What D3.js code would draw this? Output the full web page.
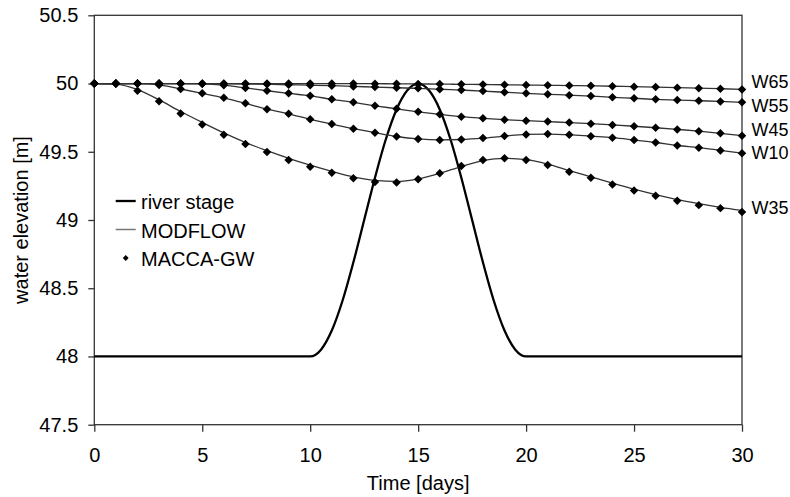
<!DOCTYPE html>
<html>
<head>
<meta charset="utf-8">
<script src="https://cdn.jsdelivr.net/npm/d3@7"></script>
<style>
    body { margin: 0; background: #fff; }
    text { font-family: "Liberation Sans", Arial, sans-serif; font-size: 20px; fill: #000; }
</style>
</head>
<body>
<div id="chart"></div>
<script>

// Time axis for the observation wells (days).
const days = d3.range(0, 31);

// River stage hydrograph.
const riverTime = [0, 10, 10.5, 11, 11.5, 12, 12.5, 13, 13.5, 14, 14.5, 15,
    15.5, 16, 16.5, 17, 17.5, 18, 18.5, 19, 19.5, 20, 30];
const riverStage = [48, 48, 48.05, 48.19, 48.41, 48.69, 49.0, 49.31, 49.59, 49.81, 49.95, 50,
    49.95, 49.81, 49.59, 49.31, 49.0, 48.69, 48.41, 48.19, 48.05, 48, 48];

// MACCA-GW heads at each well, one value per day.
const w65 = [50, 50, 50, 50, 50, 50, 50, 50, 50, 50, 50, 50, 50, 49.999, 49.998, 49.997,
    49.996, 49.994, 49.993, 49.991, 49.989, 49.987, 49.985, 49.983, 49.980, 49.977,
    49.974, 49.970, 49.966, 49.962, 49.957];
const w55 = [50, 50, 50, 50, 50, 49.999, 49.998, 49.996, 49.994, 49.991, 49.988, 49.984,
    49.979, 49.974, 49.969, 49.965, 49.958, 49.952, 49.945, 49.936, 49.928, 49.921,
    49.915, 49.908, 49.899, 49.892, 49.884, 49.879, 49.874, 49.869, 49.862];
const w45 = [50, 50, 50, 50, 50, 49.998, 49.988, 49.968, 49.947, 49.928, 49.910, 49.884,
    49.862, 49.837, 49.815, 49.793, 49.774, 49.757, 49.745, 49.735, 49.728, 49.721,
    49.714, 49.706, 49.697, 49.687, 49.676, 49.664, 49.651, 49.635, 49.618];
const w10 = [50, 50, 50, 49.99, 49.96, 49.928, 49.895, 49.855, 49.812, 49.778, 49.738,
    49.703, 49.669, 49.640, 49.612, 49.594, 49.587, 49.590, 49.600, 49.615, 49.627,
    49.630, 49.625, 49.614, 49.603, 49.586, 49.568, 49.546, 49.530, 49.510, 49.490];
const w35 = [50, 50, 49.947, 49.870, 49.780, 49.700, 49.625, 49.557, 49.498, 49.440,
    49.390, 49.347, 49.306, 49.279, 49.274, 49.298, 49.342, 49.396, 49.440, 49.452,
    49.440, 49.403, 49.354, 49.310, 49.261, 49.217, 49.178, 49.141, 49.109, 49.087, 49.058];

// MODFLOW heads. Only W35 shows a visible offset from the MACCA-GW points.
const w35Modflow = [50, 49.995, 49.955, 49.880, 49.795, 49.715, 49.638, 49.568, 49.508,
    49.452, 49.402, 49.357, 49.316, 49.290, 49.283, 49.302, 49.342, 49.392, 49.435,
    49.452, 49.443, 49.410, 49.362, 49.316, 49.270, 49.226, 49.186, 49.150, 49.120,
    49.093, 49.070];

const wellNames = ["W65", "W55", "W45", "W10", "W35"];
const maccaSeries = [w65, w55, w45, w10, w35];
const modflowSeries = [w65, w55, w45, w10, w35Modflow];

// Where the well names sit on the right hand side (water elevation).
const wellLabelAt = [49.965, 49.794, 49.618, 49.445, 49.042];

const yTicks = [47.5, 48, 48.5, 49, 49.5, 50, 50.5];
const xTicks = [0, 5, 10, 15, 20, 25, 30];

const legendItems = ["river stage", "MODFLOW", "MACCA-GW"];

const margin = { top: 15.3, left: 94.3, bottom: 72.3, right: 48 };
const totalWidth = 790;
const totalHeight = 497;
const width = totalWidth - margin.left - margin.right;
const height = totalHeight - margin.top - margin.bottom;

// Scales and axes.
const x = d3.scaleLinear()
    .domain([0, 30])
    .range([0, width]);

const y = d3.scaleLinear()
    .domain([47.5, 50.5])
    .range([height, 0]);

const xAxis = d3.axisBottom(x)
    .tickValues(xTicks)
    .tickSize(7)
    .tickSizeOuter(0)
    .tickPadding(16.5)
    .tickFormat(d => d);

const yAxis = d3.axisLeft(y)
    .tickValues(yTicks)
    .tickSize(6)
    .tickSizeOuter(0)
    .tickPadding(10)
    .tickFormat(d => d);

const svg = d3.select("#chart").append("svg")
    .attr("width", totalWidth)
    .attr("height", totalHeight)
    .append("g")
    .attr("transform", "translate(" + margin.left + "," + margin.top + ")");

// Plot area border.
svg.append("rect")
    .attr("width", width)
    .attr("height", height)
    .style("fill", "none")
    .style("stroke", "#333")
    .style("stroke-width", 1.3);

const styleAxis = g => {
    g.select(".domain").remove();
    g.selectAll("line").style("stroke", "#333").style("stroke-width", 1.3);
    g.selectAll("text")
        .style("font-family", "\"Liberation Sans\", Arial, sans-serif")
        .style("font-size", "20px")
        .style("fill", "#000");
};

svg.append("g")
    .attr("transform", "translate(0," + height + ")")
    .call(xAxis)
    .call(styleAxis);

svg.append("g")
    .call(yAxis)
    .call(styleAxis);

// Axis titles.
svg.append("text")
    .attr("x", width / 2)
    .attr("y", 490 - margin.top)
    .style("text-anchor", "middle")
    .text("Time [days]");

svg.append("text")
    .attr("transform", "rotate(-90)")
    .attr("x", -height / 2)
    .attr("y", 28 - margin.left)
    .style("text-anchor", "middle")
    .text("water elevation [m]");

// River stage, thick black line.
const riverLine = d3.line()
    .curve(d3.curveMonotoneX)
    .x((d, i) => x(riverTime[i]))
    .y(d => y(d));

svg.append("path")
    .attr("d", riverLine(riverStage))
    .style("fill", "none")
    .style("stroke", "#000")
    .style("stroke-width", 2.3);

// MODFLOW, thin lines.
const wellLine = d3.line()
    .curve(d3.curveMonotoneX)
    .x((d, i) => x(days[i]))
    .y(d => y(d));

modflowSeries.forEach(series => {
    svg.append("path")
        .attr("d", wellLine(series))
        .style("fill", "none")
        .style("stroke", "#333")
        .style("stroke-width", 1.3);
});

// MACCA-GW, diamonds at every day.
const diamond = d3.symbol().type(d3.symbolDiamond2).size(46);

maccaSeries.forEach(series => {
    svg.append("g")
        .selectAll("path")
        .data(series)
        .join("path")
        .attr("d", diamond)
        .attr("transform", (d, i) => "translate(" + x(days[i]) + "," + y(d) + ")")
        .style("fill", "#000");
});

// Well names to the right of the plot.
svg.append("g")
    .selectAll("text")
    .data(wellNames)
    .join("text")
    .attr("x", width + 9.5)
    .attr("y", (d, i) => y(wellLabelAt[i]))
    .style("font-size", "18px")
    .text(d => d);

// Legend.
const legend = svg.append("g")
    .attr("transform", "translate(21.4," + (201 - margin.top) + ")");

const rowGap = 28.5;

legend.append("line")
    .attr("x1", 0).attr("x2", 20)
    .attr("y1", 0).attr("y2", 0)
    .style("stroke", "#000")
    .style("stroke-width", 2.3);

legend.append("line")
    .attr("x1", 0).attr("x2", 20)
    .attr("y1", rowGap).attr("y2", rowGap)
    .style("stroke", "#777")
    .style("stroke-width", 1.5);

legend.append("path")
    .attr("d", d3.symbol().type(d3.symbolDiamond2).size(22))
    .attr("transform", "translate(10," + (rowGap * 2) + ")")
    .style("fill", "#000");

legend.selectAll("text")
    .data(legendItems)
    .join("text")
    .attr("x", 25.3)
    .attr("y", (d, i) => i * rowGap + 8)
    .text(d => d);

</script>
</body>
</html>
